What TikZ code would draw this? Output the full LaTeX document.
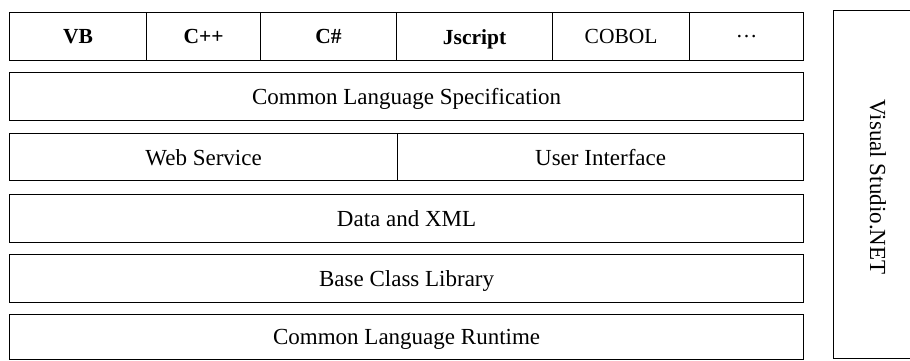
\documentclass[tikz,border=0pt]{standalone}
\usepackage{fontspec}
\setmainfont{Liberation Serif}
\begin{document}
\begin{tikzpicture}[x=1pt,y=-1pt,
  layer/.style={draw, line width=1.2pt, inner sep=0pt, anchor=north west, text depth=0pt},
  lbl/.style={font=\fontsize{23}{26}\selectfont},
  llbl/.style={font=\fontsize{21.5}{24}\selectfont},
  blbl/.style={font=\fontsize{21.5}{24}\selectfont\bfseries}]
\useasboundingbox[fill=white] (0,0) rectangle (910,361);
% row 1: languages
\node[layer, minimum width=137pt, minimum height=48pt, blbl] (vb) at (9,12) {VB};
\node[layer, minimum width=114pt, minimum height=48pt, blbl] (cpp) at (146,12) {C++};
\node[layer, minimum width=136pt, minimum height=48pt, blbl] (cs) at (260,12) {C\#};
\node[layer, minimum width=156pt, minimum height=48pt, blbl] (js) at (396,12) {Jscript};
\node[layer, minimum width=137pt, minimum height=48pt, llbl] (cobol) at (552,12) {COBOL};
\node[layer, minimum width=114pt, minimum height=48pt, llbl] (etc) at (689,12) {\dots};
% row 2
\node[layer, minimum width=794pt, minimum height=48pt, lbl] (cls) at (9,72) {Common Language Specification};
% row 3
\node[layer, minimum width=388pt, minimum height=47pt, lbl] (web) at (9,133) {Web Service};
\node[layer, minimum width=406pt, minimum height=47pt, lbl] (ui) at (397,133) {User Interface};
% row 4
\node[layer, minimum width=794pt, minimum height=48pt, lbl] (data) at (9,194) {Data and XML};
% row 5
\node[layer, minimum width=794pt, minimum height=48pt, lbl] (bcl) at (9,254) {Base Class Library};
% row 6
\node[layer, minimum width=794pt, minimum height=45pt, lbl] (clr) at (9,314) {Common Language Runtime};
% Visual Studio.NET (right edge runs off the picture)
\node[layer, minimum width=84pt, minimum height=348pt] (vs) at (833,10) {};
\node[lbl, rotate=-90] (vst) at (878,187) {Visual Studio.NET};
\end{tikzpicture}
\end{document}
